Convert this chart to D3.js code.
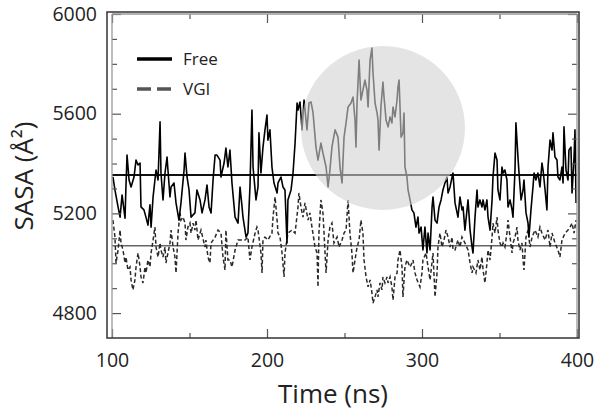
<!DOCTYPE html>
<html><head><meta charset="utf-8">
<script src="https://cdn.jsdelivr.net/npm/d3@7"></script>
<style>
html,body{margin:0;padding:0;background:#fff;}
svg{display:block;}
text{font-family:"Open Sans",sans-serif;fill:#222;}
</style></head>
<body><svg id="chart" width="602" height="417"></svg>
<script>
// ---- data ----
const freeTime = [100.6,101.9,103.9,105.2,106.5,108.4,109.0,109.7,111.0,112.3,114.2,115.5,116.8,118.1,118.7,120.6,121.9,123.2,124.5,125.2,126.5,127.7,128.4,129.7,131.0,131.6,132.9,134.2,135.5,136.1,137.4,138.1,140.0,141.3,143.2,144.5,146.5,147.1,148.4,149.7,151.0,153.5,154.8,156.8,158.1,160.0,161.3,162.6,163.9,165.2,166.5,167.7,169.7,170.3,172.3,173.5,174.8,176.1,177.4,179.4,181.3,182.6,183.9,184.5,186.5,187.7,189.0,190.3,191.0,192.9,194.2,194.8,196.1,197.4,198.7,200.0,200.6,201.9,203.2,204.5,206.5,207.1,209.0,210.3,211.6,212.9,213.5,215.5,216.8,218.1,219.4,220.0,221.3,222.6,223.9,225.8,227.1,228.4,229.7,231.6,232.9,234.8,236.1,238.1,239.4,240.6,241.9,243.9,245.8,247.1,248.4,249.7,251.0,252.3,254.2,255.5,256.8,257.4,258.1,259.4,260.6,261.9,263.2,264.5,265.2,266.5,267.7,268.4,269.7,271.0,271.6,272.3,273.5,274.8,275.5,276.8,278.1,279.4,280.6,281.3,282.6,283.9,284.5,285.2,286.5,287.7,288.4,289.0,290.3,291.0,292.3,293.5,294.8,296.1,297.4,298.1,299.4,300.6,301.9,303.2,303.9,305.2,306.5,307.1,308.4,309.7,311.0,312.3,313.5,314.8,316.1,316.8,318.1,319.4,320.0,321.3,323.2,324.5,325.8,326.5,327.7,329.7,331.0,332.3,332.9,334.2,335.5,336.1,337.4,338.7,339.4,340.6,341.9,342.6,343.9,345.2,345.8,347.1,348.4,349.0,350.3,351.6,352.3,353.5,354.8,355.5,356.8,358.1,358.7,360.0,360.6,361.9,362.6,363.9,365.2,365.8,367.1,368.4,369.0,370.3,371.6,372.3,373.5,374.8,376.1,377.4,378.1,379.4,380.6,381.3,382.6,383.9,384.5,385.8,387.1,387.7,389.0,390.3,391.0,391.6,392.9,394.2,394.8,396.1,396.8,398.1,398.7,399.4];
const freeSASA = [5346,5294,5226,5185,5274,5181,5306,5434,5334,5306,5346,5414,5394,5402,5226,5214,5185,5153,5234,5145,5266,5334,5374,5334,5567,5362,5254,5362,5426,5374,5266,5306,5322,5242,5173,5242,5374,5442,5346,5294,5185,5202,5294,5254,5202,5254,5314,5226,5202,5334,5434,5434,5414,5346,5402,5462,5386,5454,5322,5185,5161,5306,5226,5185,5105,5121,5306,5615,5386,5254,5306,5523,5362,5466,5535,5595,5494,5535,5386,5322,5282,5322,5346,5306,5294,5081,5254,5294,5362,5482,5643,5615,5647,5535,5655,5535,5643,5647,5603,5466,5414,5482,5442,5386,5306,5374,5466,5535,5506,5386,5322,5506,5563,5627,5643,5667,5575,5466,5643,5815,5655,5695,5735,5695,5627,5815,5863,5763,5643,5603,5575,5454,5627,5727,5667,5575,5547,5587,5563,5627,5587,5655,5707,5735,5506,5523,5603,5386,5346,5294,5254,5214,5202,5145,5185,5121,5145,5053,5145,5041,5121,5053,5226,5266,5173,5161,5226,5254,5294,5322,5346,5282,5306,5346,5362,5242,5185,5266,5214,5226,5133,5254,5133,5065,5041,5185,5294,5226,5254,5226,5254,5214,5254,5185,5133,5254,5346,5442,5414,5294,5254,5386,5362,5374,5334,5226,5254,5214,5185,5374,5563,5426,5362,5254,5294,5334,5202,5161,5105,5214,5306,5362,5334,5362,5306,5402,5374,5294,5214,5386,5494,5454,5523,5426,5414,5346,5334,5386,5322,5547,5374,5334,5454,5466,5282,5426,5535,5242];
const vgiTime = [100.6,101.9,102.6,103.9,105.2,105.8,107.1,108.4,109.0,110.3,111.6,112.3,113.5,114.8,115.5,116.8,118.1,118.7,120.0,121.3,121.9,123.2,124.5,125.2,126.5,127.7,128.4,129.7,131.0,131.6,132.9,134.2,134.8,136.1,137.4,138.1,139.4,140.6,141.3,142.6,143.9,144.5,145.8,147.1,147.7,149.0,150.3,151.0,152.3,153.5,154.2,155.5,157.4,160.0,160.6,161.9,163.2,163.9,166.5,168.4,170.3,171.6,172.9,173.5,174.8,176.1,177.4,179.4,181.3,183.9,185.8,187.7,189.0,190.3,192.3,193.5,194.2,196.1,196.8,197.4,198.7,200.6,203.2,203.9,205.2,206.5,207.1,208.4,209.7,211.0,211.6,213.5,216.1,218.1,220.0,220.6,221.9,223.2,224.5,226.5,227.7,229.0,231.0,232.3,232.9,233.5,234.8,236.1,236.8,238.1,239.4,240.6,241.9,243.2,245.2,246.5,248.4,249.7,251.0,252.3,253.5,254.8,255.5,256.8,258.1,259.4,260.6,261.9,262.6,263.9,265.2,266.5,267.7,268.4,269.7,271.0,271.6,272.9,274.2,274.8,276.1,277.4,278.1,279.4,280.6,281.3,282.6,283.9,284.5,285.8,287.1,287.7,289.0,290.3,292.3,293.5,294.2,295.5,296.8,298.7,300.0,300.6,302.6,303.9,305.2,307.1,308.4,309.7,310.3,311.6,312.9,314.2,315.5,316.8,318.1,319.4,320.0,321.3,323.2,324.5,325.8,327.7,329.7,331.0,332.3,332.9,334.8,336.1,337.4,338.7,339.4,340.6,341.9,342.6,343.9,345.2,345.8,347.1,348.4,349.0,350.3,351.6,352.3,353.5,354.8,355.5,356.8,358.1,358.7,360.0,361.3,361.9,363.2,364.5,365.2,365.8,367.1,368.4,369.7,371.0,372.9,374.8,376.1,377.4,379.4,381.3,382.6,383.9,385.8,387.7,389.0,390.3,392.3,394.2,395.5,396.8,398.1,399.4];
const vgiSASA = [5173,5105,5001,5053,5133,5081,5053,5001,5025,4973,4985,4933,4893,4933,4985,5041,4985,4945,4921,4985,4961,5013,4985,5041,5093,5145,5065,5025,5081,5053,5025,5065,5001,5041,5081,5133,5065,5025,4961,5121,5202,5173,5185,5161,5093,5145,5161,5121,5161,5133,5173,5093,5133,5065,5093,5025,5001,5081,5105,5133,5121,5025,4973,5133,5013,5013,4985,5053,5093,5093,5093,5105,5013,5065,5121,5145,5133,5041,4961,5093,5105,5093,5121,5185,5266,5173,5121,5105,5041,4945,5041,5121,5133,5121,5226,5282,5226,5185,5242,5173,5202,5145,5065,5041,4905,5121,5254,5202,5121,4961,5093,5145,5161,5081,5105,5065,5093,5121,5133,5254,5121,5041,4961,5013,5065,5093,5173,5121,5013,4945,4905,4933,4881,4840,4865,4893,4865,4921,4893,4945,4921,4945,4921,4945,4905,4852,4945,4961,5013,5053,4985,4865,4985,5013,4985,5001,5013,4961,4933,4905,4961,5013,5041,4985,4933,5041,4865,4961,5065,5121,5065,5093,5133,5105,5065,5105,5053,5053,5093,5065,5105,5081,5053,5001,4961,4985,4961,5013,4973,5025,4973,4921,5001,5053,5013,5105,5161,5121,5185,5133,5081,5065,5081,5065,5121,5173,5105,5041,5081,5105,5145,5093,5053,5081,5013,4973,5105,5133,5065,5105,5133,5105,5145,5121,5093,5133,5065,5121,5081,5053,5025,5093,5121,5133,5145,5161,5121,5173];
const meanFree = 5354;
const meanVGI = 5070;
const xTicks = [100, 200, 300, 400];
const xMinor = [150, 250, 350];
const yTicks = [4800, 5200, 5600, 6000];
const yMinor = [4900, 5000, 5100, 5300, 5400, 5500, 5700, 5800, 5900];
const highlight = {time: 274.8, sasa: 5543};
const legendLabels = ["Free", "VGI"];

// ---- chart ----
const svg = d3.select("#chart");
const L = 112, R = 577, T = 14, B = 338;
const x = d3.scaleLinear().domain([100, 400]).range([L, R]);
const y = d3.scaleLinear().domain([4700, 6000]).range([B, T]);

svg.append("defs").append("clipPath").attr("id","clip")
  .append("rect").attr("x",L).attr("y",T).attr("width",R-L).attr("height",B-T);

const plot = svg.append("g").attr("clip-path","url(#clip)");

// mean lines
plot.append("line").attr("x1",x(100)).attr("x2",x(400)).attr("y1",y(meanVGI)).attr("y2",y(meanVGI))
  .attr("stroke","#666").attr("stroke-width",1.6);
plot.append("line").attr("x1",x(100)).attr("x2",x(400)).attr("y1",y(meanFree)).attr("y2",y(meanFree))
  .attr("stroke","#111").attr("stroke-width",2);

const line = d3.line().x(d=>x(d[0])).y(d=>y(d[1])).curve(d3.curveLinear);
const vgiData = vgiTime.map((t,i)=>[t,vgiSASA[i]]);
const freeData = freeTime.map((t,i)=>[t,freeSASA[i]]);

plot.append("path").datum(vgiData).attr("d",line).attr("fill","none")
  .attr("stroke","#2a2a2a").attr("stroke-width",1.5).attr("stroke-dasharray","4,2.5");
plot.append("path").datum(freeData).attr("d",line).attr("fill","none")
  .attr("stroke","#000").attr("stroke-width",1.6).attr("stroke-linejoin","round");

// highlight circle overlay
plot.append("circle").attr("cx",x(highlight.time)).attr("cy",y(highlight.sasa)).attr("r",82)
  .attr("fill","#d2d2d2").attr("fill-opacity",0.6);

// axes
function styleAxis(g){
  g.select(".domain").remove();
  g.selectAll(".tick line").attr("stroke","#555").attr("stroke-width",1.2);
  g.selectAll(".tick text").style("font-family","'Open Sans',sans-serif").style("font-size","19.5px").attr("fill","#222");
}
svg.append("g").attr("transform",`translate(${L},0)`)
  .call(d3.axisLeft(y).tickValues(yTicks).tickSize(-9).tickPadding(15).tickFormat(d3.format("d"))).call(styleAxis);
svg.append("g").attr("transform",`translate(${L},0)`)
  .call(d3.axisLeft(y).tickValues(yMinor).tickSize(-5).tickFormat("")).call(styleAxis);
svg.append("g").attr("transform",`translate(${R},0)`)
  .call(d3.axisRight(y).tickValues(yTicks).tickSize(-9).tickFormat("")).call(styleAxis);
svg.append("g").attr("transform",`translate(${R},0)`)
  .call(d3.axisRight(y).tickValues(yMinor).tickSize(-5).tickFormat("")).call(styleAxis);
svg.append("g").attr("transform",`translate(0,${B})`)
  .call(d3.axisBottom(x).tickValues(xTicks).tickSize(-9).tickPadding(15).tickFormat(d3.format("d"))).call(styleAxis);
svg.append("g").attr("transform",`translate(0,${B})`)
  .call(d3.axisBottom(x).tickValues(xMinor).tickSize(-5).tickFormat("")).call(styleAxis);
svg.append("g").attr("transform",`translate(0,${T})`)
  .call(d3.axisTop(x).tickValues(xTicks).tickSize(-9).tickFormat("")).call(styleAxis);
svg.append("g").attr("transform",`translate(0,${T})`)
  .call(d3.axisTop(x).tickValues(xMinor).tickSize(-5).tickFormat("")).call(styleAxis);

// frame
svg.append("line").attr("x1",L).attr("x2",L).attr("y1",T).attr("y2",B).attr("stroke","#999").attr("stroke-width",1.3);
svg.append("line").attr("x1",R).attr("x2",R).attr("y1",T).attr("y2",B).attr("stroke","#999").attr("stroke-width",1.3);
svg.append("line").attr("x1",L).attr("x2",R).attr("y1",T).attr("y2",T).attr("stroke","#999").attr("stroke-width",1.3);
svg.append("rect").attr("x",107).attr("y",12).attr("width",472).attr("height",326)
  .attr("fill","none").attr("stroke","#333").attr("stroke-width",1.5);

// legend
const lg = svg.append("g");
lg.append("line").attr("x1",137).attr("x2",172).attr("y1",59).attr("y2",59).attr("stroke","#000").attr("stroke-width",3.5);
lg.append("line").attr("x1",137).attr("x2",172).attr("y1",89).attr("y2",89).attr("stroke","#555").attr("stroke-width",3.5).attr("stroke-dasharray","14,6");
lg.append("text").attr("x",183).attr("y",65).style("font-size","17px").text(legendLabels[0]);
lg.append("text").attr("x",183).attr("y",95).style("font-size","17px").text(legendLabels[1]);

// axis titles
svg.append("text").attr("x",333).attr("y",403).attr("text-anchor","middle").style("font-size","26px").text("Time (ns)");
svg.append("text").attr("transform","translate(33,176) rotate(-90)").attr("text-anchor","middle").style("font-size","26px").text("SASA (Å²)");
</script></body></html>
